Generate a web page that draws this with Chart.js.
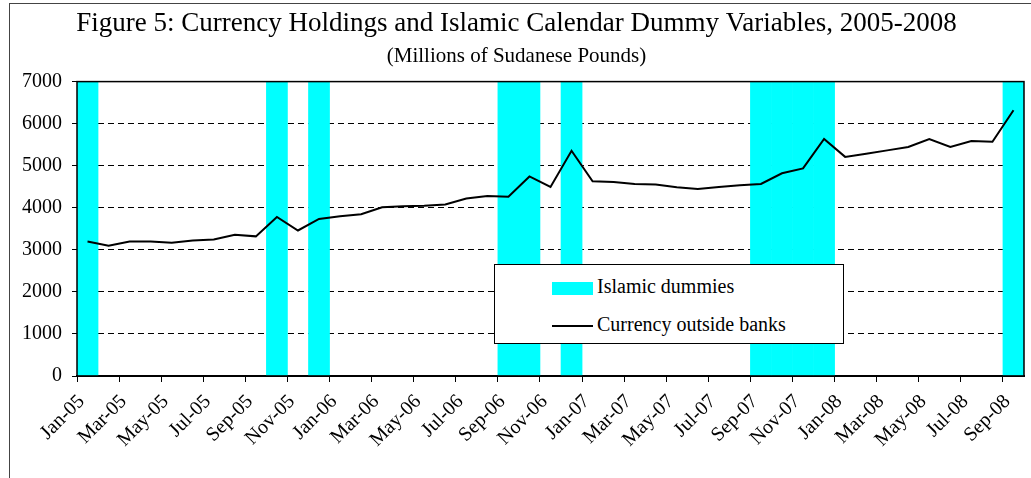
<!DOCTYPE html>
<html lang="en">
<head>
    <meta charset="utf-8">
    <title>Currency Holdings and Islamic Calendar Dummies</title>
    <script src="https://cdn.jsdelivr.net/npm/chart.js@4.4.1/dist/chart.umd.min.js"></script>
    <style>
        body { margin: 0; background: #fff; }
        #wrap { position: relative; width: 1031px; height: 478px; overflow: hidden; }
        #frame {
            position: absolute; left: 9px; top: 3px; width: 1100px; height: 600px;
            border-top: 1px solid #444; border-left: 1px solid #444;
        }
        #gr { position: absolute; left: 0; top: 0; }
        .lg {
            position: absolute; left: 494px; top: 264px; width: 348px; height: 78px;
            border: 1px solid #000; background: #fff;
            font: 20px "Liberation Serif", "Times New Roman", serif; color: #000;
        }
        .lg .row { position: absolute; left: 57px; height: 24px; line-height: 24px; }
        .lg .sw { display: inline-block; width: 41px; vertical-align: middle; margin-right: 4px; }
    </style>
</head>
<body>
<div id="wrap">
    <div id="frame"></div>
    <canvas id="gr" width="1031" height="478"></canvas>
    <!--凡例-->
    <div class="lg">
        <div class="row" style="top:9px"><span class="sw" style="height:13px;background:#00ffff"></span>Islamic dummies</div>
        <div class="row" style="top:47px"><span class="sw" style="height:2px;background:#000"></span>Currency outside banks</div>
    </div>
</div>

<script>
    // 月ラベル Jan-05 .. Sep-08
    const months = [
        "Jan-05", "Feb-05", "Mar-05", "Apr-05", "May-05", "Jun-05", "Jul-05", "Aug-05", "Sep-05", "Oct-05", "Nov-05", "Dec-05",
        "Jan-06", "Feb-06", "Mar-06", "Apr-06", "May-06", "Jun-06", "Jul-06", "Aug-06", "Sep-06", "Oct-06", "Nov-06", "Dec-06",
        "Jan-07", "Feb-07", "Mar-07", "Apr-07", "May-07", "Jun-07", "Jul-07", "Aug-07", "Sep-07", "Oct-07", "Nov-07", "Dec-07",
        "Jan-08", "Feb-08", "Mar-08", "Apr-08", "May-08", "Jun-08", "Jul-08", "Aug-08", "Sep-08"
    ];

    // Currency outside banks (millions SDG)
    const currency = [
        3200, 3100, 3200, 3200, 3170, 3220, 3245, 3360, 3320, 3780, 3460, 3735,
        3800, 3845, 4010, 4035, 4050, 4080, 4220, 4280, 4265, 4745, 4495, 5355,
        4630, 4615, 4565, 4555, 4490, 4445, 4495, 4535, 4565, 4820, 4935, 5635,
        5210, 5285, 5365, 5445, 5635, 5445, 5585, 5570, 6320
    ];

    // Islamic dummy (1 = month flagged)
    const islamicDummy = [
        1, 0, 0, 0, 0, 0, 0, 0, 0, 1, 0, 1,
        0, 0, 0, 0, 0, 0, 0, 0, 1, 1, 0, 1,
        0, 0, 0, 0, 0, 0, 0, 0, 1, 1, 1, 1,
        0, 0, 0, 0, 0, 0, 0, 0, 1
    ];

    const yTicks = [0, 1000, 2000, 3000, 4000, 5000, 6000, 7000];
    const yMax = yTicks[yTicks.length - 1];

    const serif = "'Liberation Serif', 'Times New Roman', serif";

    // プロットエリアの枠線
    const plotFrame = {
        id: "plotFrame",
        afterDatasetsDraw(chart) {
            const a = chart.chartArea, c = chart.ctx;
            c.save();
            c.strokeStyle = "#000";
            c.lineWidth = 1.5;
            c.strokeRect(a.left, a.top, a.right - a.left, a.bottom - a.top);
            c.restore();
        }
    };

    new Chart(document.getElementById("gr").getContext("2d"), {
        data: {
            labels: months,
            datasets: [
                {
                    type: "line",
                    label: "Currency outside banks",
                    data: currency,
                    borderColor: "#000",
                    borderWidth: 2,
                    pointRadius: 0,
                    tension: 0,
                    order: 1
                },
                {
                    type: "bar",
                    label: "Islamic dummies",
                    data: islamicDummy.map(d => d ? yMax : null),
                    backgroundColor: "#00ffff",
                    borderWidth: 0,
                    barPercentage: 1,
                    categoryPercentage: 1,
                    order: 2
                }
            ]
        },
        options: {
            responsive: false,
            animation: false,
            layout: { padding: { left: 9, right: 7, top: 3, bottom: 0 } },
            plugins: {
                legend: { display: false },
                tooltip: { enabled: false },
                title: {
                    display: true,
                    text: "Figure 5: Currency Holdings and Islamic Calendar Dummy Variables, 2005-2008",
                    color: "#000",
                    font: { family: serif, size: 27, weight: "normal" },
                    padding: { top: 5, bottom: 0 }
                },
                subtitle: {
                    display: true,
                    text: "(Millions of Sudanese Pounds)",
                    color: "#000",
                    font: { family: serif, size: 21, weight: "normal" },
                    padding: { top: 3, bottom: 13 }
                }
            },
            scales: {
                x: {
                    offset: true,
                    afterFit: (s) => { s.height = 102; s.paddingLeft = 0; s.paddingRight = 0; },
                    grid: {
                        offset: true,
                        drawOnChartArea: false,
                        tickLength: 6,
                        color: (ctx) => (ctx.index % 2 === 0 ? "#000" : "rgba(0,0,0,0)"),
                        tickColor: (ctx) => (ctx.index % 2 === 0 ? "#000" : "rgba(0,0,0,0)")
                    },
                    border: { display: true, color: "#000", width: 2 },
                    ticks: {
                        autoSkip: false,
                        minRotation: 45,
                        maxRotation: 45,
                        labelOffset: -6,
                        padding: 8,
                        color: "#000",
                        font: { family: serif, size: 20 },
                        callback: function (v, i) { return i % 2 === 0 ? months[i] : ""; }
                    }
                },
                y: {
                    min: 0,
                    max: yMax,
                    afterFit: (s) => { s.width = 68; s.paddingTop = 0; s.paddingBottom = 0; },
                    afterBuildTicks: (s) => { s.ticks = yTicks.map(v => ({ value: v })); },
                    grid: {
                        tickLength: 5,
                        lineWidth: 1,
                        color: (ctx) => (ctx.tick && (ctx.tick.value === 0 || ctx.tick.value === yMax) ? "rgba(0,0,0,0)" : "#000"),
                        tickColor: "#000"
                    },
                    border: { display: true, color: "#000", width: 1, dash: [6, 4] },
                    ticks: {
                        padding: 10,
                        color: "#000",
                        font: { family: serif, size: 20 },
                        callback: (v) => String(v)
                    }
                }
            }
        },
        plugins: [plotFrame]
    });
</script>
</body>
</html>
